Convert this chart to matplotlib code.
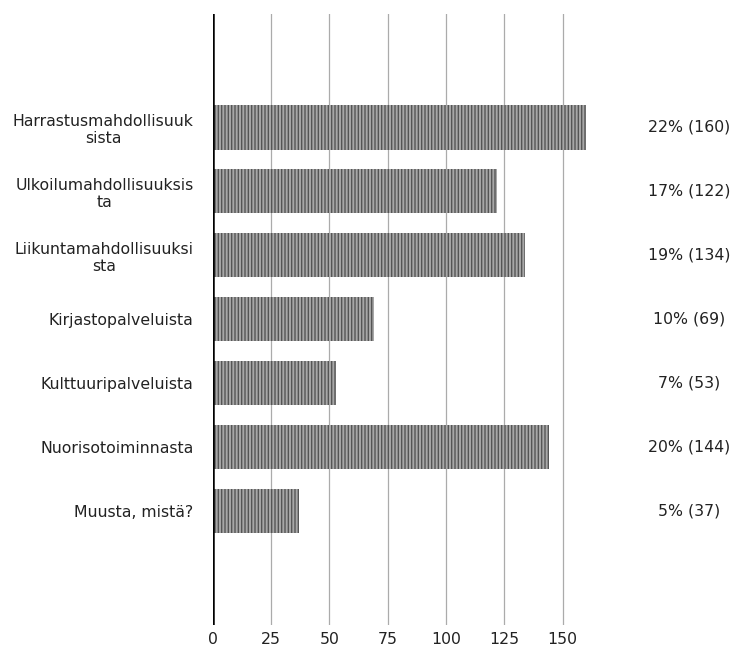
import matplotlib
matplotlib.use("Agg")
import matplotlib.pyplot as plt

# data
kategoriat = [
    "Harrastusmahdollisuuk\nsista",
    "Ulkoilumahdollisuuksis\nta",
    "Liikuntamahdollisuuksi\nsta",
    "Kirjastopalveluista",
    "Kulttuuripalveluista",
    "Nuorisotoiminnasta",
    "Muusta, mistä?",
]
maarat = [160, 122, 134, 69, 53, 144, 37]
osuudet = [22, 17, 19, 10, 7, 20, 5]
x_ticks = [0, 25, 50, 75, 100, 125, 150]

plt.rcParams['font.family'] = ['DejaVu Sans']
fs = 11.3

fig = plt.figure(figsize=(7.34, 6.48), dpi=100)
ax = fig.add_axes([0.290, 0.0355, 0.556, 0.9425])

ypos = list(range(len(kategoriat)))

# grid lines first, below the bars
for t in x_ticks[1:]:
    ax.axvline(t, color='#ababab', linewidth=0.9, zorder=0)

ax.barh(ypos, maarat, height=0.69, color='#a8a8a8', edgecolor='#555555',
        linewidth=0, hatch='|||||', zorder=2)
ax.axvline(0, color='black', linewidth=1.8, zorder=3)

ax.set_xlim(0, 175)
ax.set_ylim(6 + 1.78, -1.77)

ax.set_xticks(x_ticks)
ax.set_xticklabels([str(t) for t in x_ticks], fontsize=fs, color='#222222')
ax.set_yticks(ypos)
ax.set_yticklabels(kategoriat, fontsize=fs, color='#222222')
for lbl in ax.get_yticklabels():
    lbl.set_multialignment('center')
ax.tick_params(axis='both', length=0)
ax.tick_params(axis='x', pad=5)
ax.tick_params(axis='y', pad=14)

for s in ax.spines.values():
    s.set_visible(False)

# percent / count labels on the right
for y, p, n in zip(ypos, osuudet, maarat):
    ax.annotate(f"{p}% ({n})", xy=(0.9387, y), xycoords=('figure fraction', 'data'),
                ha='center', va='center', fontsize=fs, color='#222222')

fig.savefig("out.png", dpi=100)
